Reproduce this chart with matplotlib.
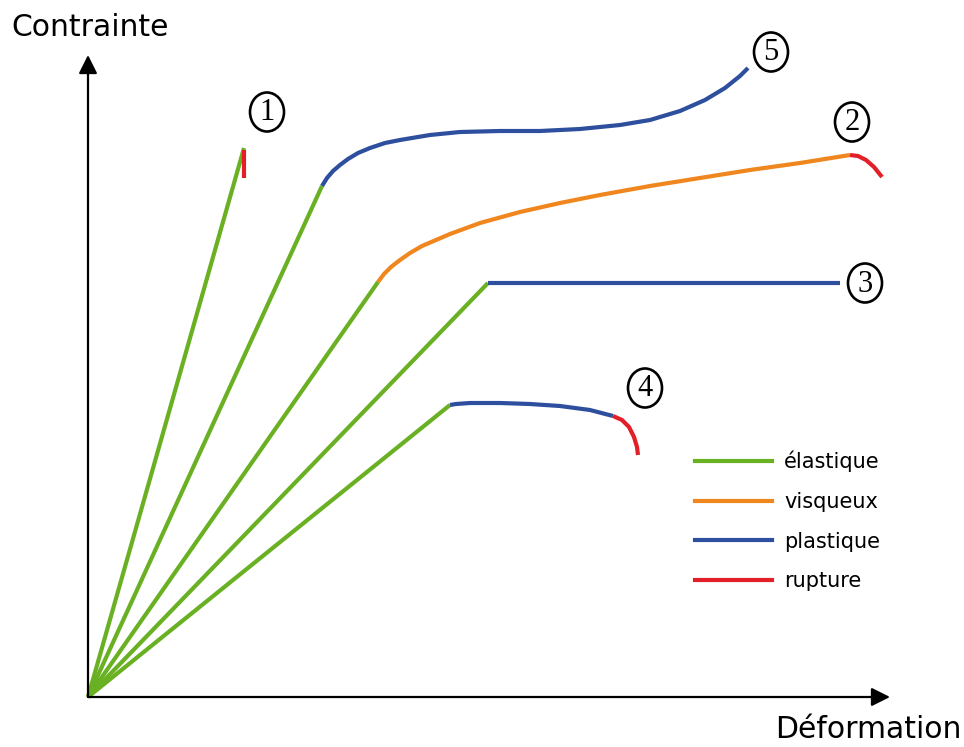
import matplotlib
matplotlib.use('Agg')
import matplotlib.pyplot as plt
from matplotlib.lines import Line2D
from matplotlib.patches import Ellipse

# couleurs des comportements
C_ELAS = '#6ab023'
C_VISQ = '#f0861e'
C_PLAS = '#2d4f9e'
C_RUPT = '#e3202a'

# droites élastiques: extrémités (déformation, contrainte)
elas_end_x = [156, 234, 290, 400, 362]
elas_end_y = [549, 511, 415, 414, 292]

# courbe 1 : rupture fragile
c1_rupt_x = [156, 156]
c1_rupt_y = [547, 519]

# courbe 2 : visqueux puis rupture
c2_visq_x = [290, 296, 303, 312, 322, 334, 348, 362, 392, 432, 472, 512, 562, 612, 662, 712, 762]
c2_visq_y = [415, 423, 430, 437, 444, 451, 457, 463, 474, 485, 494, 502, 511, 519, 527, 534, 542]
c2_rupt_x = [762, 770, 778, 786, 794]
c2_rupt_y = [542, 541, 537, 530, 520]

# courbe 3 : plastique parfait
c3_plas_x = [400, 752]
c3_plas_y = [414, 414]

# courbe 4 : plastique puis rupture
c4_plas_x = [362, 368, 382, 412, 442, 472, 502, 525]
c4_plas_y = [292, 293, 294, 294, 293, 291, 287, 281]
c4_rupt_x = [525, 534, 541, 546, 549, 550]
c4_rupt_y = [281, 277, 270, 260, 250, 242]

# courbe 5 : plastique avec écrouissage
c5_plas_x = [234, 239, 245, 252, 260, 270, 282, 297, 312, 342, 372, 412, 452, 492,
             532, 562, 592, 617, 637, 652, 660]
c5_plas_y = [511, 519, 526, 532, 538, 544, 549, 554, 557, 562, 565, 566, 566, 568,
             572, 577, 586, 597, 609, 621, 629]

# numéros des courbes
num_labels = ['1', '2', '3', '4', '5']
num_x = [179, 764, 777, 557, 683]
num_y = [585, 575, 414, 309, 645]

legend_labels = ['élastique', 'visqueux', 'plastique', 'rupture']

fig = plt.figure(figsize=(9.64, 7.47), dpi=100)
ax = fig.add_axes([0, 0, 1, 1])
ax.set_xlim(-88, 964 - 88)
ax.set_ylim(697 - 747, 697)
ax.axis('off')

LW = 3.0
kw = dict(lw=LW, solid_capstyle='butt', solid_joinstyle='round')

for ex, ey in zip(elas_end_x, elas_end_y):
    ax.plot([0, ex], [0, ey], color=C_ELAS, **kw)

ax.plot(c1_rupt_x, c1_rupt_y, color=C_RUPT, **kw)
ax.plot(c2_visq_x, c2_visq_y, color=C_VISQ, **kw)
ax.plot(c2_rupt_x, c2_rupt_y, color=C_RUPT, **kw)
ax.plot(c3_plas_x, c3_plas_y, color=C_PLAS, **kw)
ax.plot(c4_plas_x, c4_plas_y, color=C_PLAS, **kw)
ax.plot(c4_rupt_x, c4_rupt_y, color=C_RUPT, **kw)
ax.plot(c5_plas_x, c5_plas_y, color=C_PLAS, **kw)

# axes avec flèches
arrow = dict(arrowstyle='-|>', lw=1.6, color='black', mutation_scale=28,
             shrinkA=0, shrinkB=0)
ax.annotate('', xy=(0, 642), xytext=(0, 0), arrowprops=arrow)
ax.annotate('', xy=(802, 0), xytext=(0, 0), arrowprops=arrow)

ax.text(-77, 669, 'Contrainte', fontsize=21.5, ha='left', va='center')
ax.text(873, -32, 'Déformation', fontsize=21.5, ha='right', va='center')

# numéros cerclés
for lab, x, y in zip(num_labels, num_x, num_y):
    ax.add_patch(Ellipse((x, y), 34, 39, fill=False, lw=1.9, ec='black'))
    ax.text(x, y - 1, lab, fontsize=22, family='Liberation Serif',
            ha='center', va='center')

handles = [Line2D([], [], color=c, lw=LW) for c in (C_ELAS, C_VISQ, C_PLAS, C_RUPT)]
ax.legend(handles, legend_labels, loc='upper left', bbox_to_anchor=(0.701, 0.422),
          frameon=False, fontsize=15, handlelength=3.7, handletextpad=0.6,
          labelspacing=0.95)

fig.savefig('out.png', dpi=100)
